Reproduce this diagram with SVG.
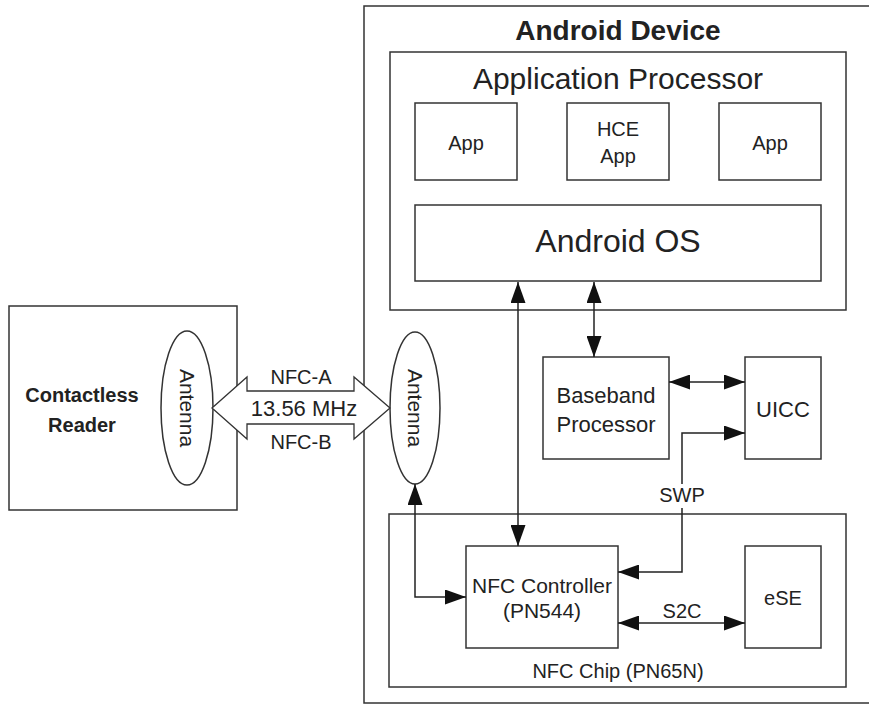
<svg xmlns="http://www.w3.org/2000/svg" width="869" height="705" viewBox="0 0 869 705">
<style>
.box{fill:#fff;stroke:#333;stroke-width:1.5}
.t{font-family:"Liberation Sans",Arial,sans-serif;fill:#222;text-anchor:middle}
.b{font-weight:bold}
.ln{fill:none;stroke:#222;stroke-width:1.5}
</style>
<defs>
<marker id="ah" markerUnits="userSpaceOnUse" markerWidth="21" markerHeight="15" refX="21" refY="7.5" orient="auto-start-reverse">
<path d="M0,0 L21,7.5 L0,15 z" fill="#111"/>
</marker>
</defs>
<rect width="869" height="705" fill="#fff"/>

<g id="android-device">
<rect class="box" x="364" y="6" width="520" height="697"/>
<text class="t b" x="618" y="40" font-size="28">Android Device</text>
</g>

<g id="application-processor">
<rect class="box" x="390" y="52" width="456" height="258"/>
<text class="t" x="618" y="89" font-size="30">Application Processor</text>
</g>

<g id="app1">
<rect class="box" x="415" y="103" width="102" height="77"/>
<text class="t" x="466" y="150" font-size="20">App</text>
</g>
<g id="hce-app">
<rect class="box" x="567" y="103" width="102" height="77"/>
<text class="t" x="618" y="136" font-size="20">HCE</text>
<text class="t" x="618" y="163" font-size="20">App</text>
</g>
<g id="app2">
<rect class="box" x="719" y="103" width="102" height="77"/>
<text class="t" x="770" y="150" font-size="20">App</text>
</g>
<g id="android-os">
<rect class="box" x="415" y="205" width="406" height="76"/>
<text class="t" x="618" y="252" font-size="32">Android OS</text>
</g>

<g id="baseband">
<rect class="box" x="543" y="357" width="126" height="102"/>
<text class="t" x="606" y="403" font-size="22">Baseband</text>
<text class="t" x="606" y="432" font-size="22">Processor</text>
</g>
<g id="uicc">
<rect class="box" x="745" y="357" width="76" height="102"/>
<text class="t" x="783" y="417" font-size="22">UICC</text>
</g>

<g id="nfc-chip">
<rect class="box" x="389" y="514" width="457" height="173"/>
<text class="t" x="618" y="678" font-size="20">NFC Chip (PN65N)</text>
</g>
<g id="nfc-controller">
<rect class="box" x="466" y="546" width="152" height="102"/>
<text class="t" x="542" y="593" font-size="21">NFC Controller</text>
<text class="t" x="542" y="618" font-size="21">(PN544)</text>
</g>
<g id="ese">
<rect class="box" x="745" y="546" width="76" height="102"/>
<text class="t" x="783" y="605" font-size="20">eSE</text>
</g>

<g id="device-antenna">
<ellipse class="box" cx="415" cy="408" rx="25" ry="76"/>
<text class="t" transform="translate(415,408) rotate(90)" x="0" y="7" font-size="21">Antenna</text>
</g>

<g id="contactless-reader">
<rect class="box" x="9" y="306" width="228" height="204"/>
<text class="t b" x="82" y="402" font-size="20">Contactless</text>
<text class="t b" x="82" y="432" font-size="20">Reader</text>
</g>
<g id="reader-antenna">
<ellipse class="box" cx="187" cy="408" rx="26" ry="77"/>
<text class="t" transform="translate(187,408) rotate(90)" x="0" y="7" font-size="21">Antenna</text>
</g>

<g id="connectors">
<polygon points="212,408 247,377 247,391 354,391 354,377 390,408 354,439 354,424 247,424 247,439" fill="#fff" stroke="#333" stroke-width="1.3"/>
<text class="t" x="301" y="384" font-size="20">NFC-A</text>
<text class="t" x="304" y="416" font-size="22">13.56 MHz</text>
<text class="t" x="301" y="449" font-size="20">NFC-B</text>

<line class="ln" x1="518" y1="282" x2="518" y2="546" marker-start="url(#ah)" marker-end="url(#ah)"/>
<line class="ln" x1="594" y1="282" x2="594" y2="357" marker-start="url(#ah)" marker-end="url(#ah)"/>
<line class="ln" x1="669" y1="382" x2="745" y2="382" marker-start="url(#ah)" marker-end="url(#ah)"/>
<path class="ln" d="M682,484 V433 H745" marker-end="url(#ah)"/>
<path class="ln" d="M682,508 V572 H618" marker-end="url(#ah)"/>
<text class="t" x="682" y="502" font-size="20">SWP</text>
<line class="ln" x1="618" y1="623" x2="745" y2="623" marker-start="url(#ah)" marker-end="url(#ah)"/>
<text class="t" x="682" y="618" font-size="20">S2C</text>
<path class="ln" d="M415,484 V597 H466" marker-start="url(#ah)" marker-end="url(#ah)"/>
</g>
</svg>
